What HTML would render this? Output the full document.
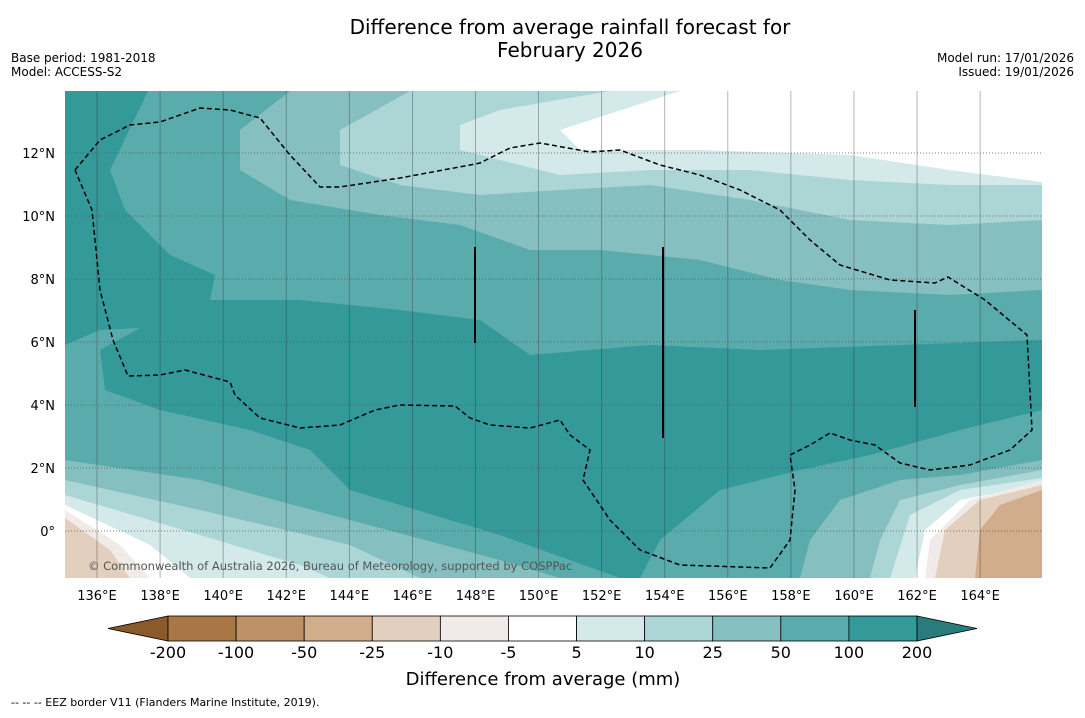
<!DOCTYPE html>
<html><head><meta charset="utf-8"><style>
body{margin:0;background:#fff;width:1085px;height:713px;overflow:hidden;font-family:"Liberation Sans","DejaVu Sans",sans-serif}
svg text{font-family:"DejaVu Sans","Liberation Sans",sans-serif}
</style></head><body>
<svg width="1085" height="713" viewBox="0 0 1085 713">
<text x="570" y="34" font-size="20" text-anchor="middle">Difference from average rainfall forecast for</text>
<text x="570" y="57" font-size="20" text-anchor="middle">February 2026</text>
<text x="11" y="62" font-size="12">Base period: 1981-2018</text>
<text x="11" y="76" font-size="12">Model: ACCESS-S2</text>
<text x="1074" y="62" font-size="12" text-anchor="end">Model run: 17/01/2026</text>
<text x="1074" y="76" font-size="12" text-anchor="end">Issued: 19/01/2026</text>
<defs><clipPath id="mc"><rect x="65" y="91" width="977" height="487"/></clipPath></defs>
<g clip-path="url(#mc)">
<rect x="65" y="91" width="977" height="487" fill="#fff"/>
<polygon fill="#d4e9e9" points="65,91 680,91 560,130 580,150 700,150 850,155 950,170 1042,182 1042,484 960,500 925,530 915,578 190,578 150,545 65,505"/>
<polygon fill="#acd6d6" points="65,91 610,91 500,110 460,125 460,150 560,175 650,170 750,170 850,180 950,185 1042,185 1042,478 960,490 910,515 890,578 330,578 300,565 200,535 65,495"/>
<polygon fill="#85bfbf" points="65,91 410,91 340,130 340,165 400,185 480,195 560,190 650,185 750,200 850,220 950,225 1042,220 1042,470 960,485 900,500 880,540 870,578 420,578 350,545 200,510 65,480"/>
<polygon fill="#5aabab" points="65,91 290,91 240,130 240,170 290,200 380,215 460,225 530,250 600,250 700,260 780,280 850,290 950,295 1042,290 1042,460 960,475 900,480 840,500 810,540 800,578 560,578 500,560 350,520 200,480 65,460"/>
<polygon fill="#339999" points="65,91 148,91 110,170 125,210 170,255 215,275 210,300 300,300 400,310 480,320 530,355 650,345 760,350 900,345 1042,340 1042,410 960,430 870,455 800,470 720,490 660,540 640,578 620,578 500,535 350,490 310,450 250,430 160,410 105,390 100,350 140,328 100,330 65,345"/>
<polygon fill="#f0ebe8" points="1042,480 970,500 930,540 925,578 1042,578"/>
<polygon fill="#e3cfbd" points="1042,485 980,500 945,530 935,578 1042,578"/>
<polygon fill="#d1ad8b" points="1042,490 1000,505 980,530 975,578 1042,578"/>
<polygon fill="#f0ebe8" points="65,510 120,545 150,578 65,578"/>
<polygon fill="#e3cfbd" points="65,518 110,550 130,578 65,578"/>
<g id="gridv" stroke="#333" stroke-opacity="0.45" stroke-width="0.8"></g>
<g id="grid" stroke="#555" stroke-width="0.8" stroke-dasharray="1,2"></g>
<polyline fill="none" stroke="#000" stroke-width="1.5" stroke-dasharray="5,3" points="75,170 100,140 130,125 160,122 200,108 230,110 260,118 290,155 320,187 340,187 400,178 470,165 480,163 510,148 540,143 590,152 620,150 660,165 680,170 700,175 740,190 780,210 810,240 840,265 890,280 935,283 948,277 985,300 1027,335 1032,430 1010,450 970,465 930,470 900,463 875,445 850,440 830,433 810,445 790,455 795,490 790,540 770,568 680,565 640,550 610,520 583,480 590,450 570,435 560,420 530,428 490,425 470,418 455,406 400,405 375,410 340,425 300,428 260,418 235,395 230,382 185,370 160,375 128,376 113,340 100,290 92,210 75,170"/>
<line x1="475" y1="247" x2="475" y2="343" stroke="#000" stroke-width="2"/>
<line x1="663" y1="247" x2="663" y2="438" stroke="#000" stroke-width="2"/>
<line x1="915" y1="310" x2="915" y2="407" stroke="#000" stroke-width="2"/>
<text x="88" y="570" font-size="11.5" fill="#555">© Commonwealth of Australia 2026, Bureau of Meteorology, supported by COSPPac</text>
</g>
<g id="ticks" font-size="13"></g>
<g id="cbar"></g>
<text x="543" y="685" font-size="18" text-anchor="middle">Difference from average (mm)</text>
<text x="11" y="706" font-size="11">--  --  -- EEZ border V11 (Flanders Marine Institute, 2019).</text>
</svg>
<script>
const lonTicks=[136,138,140,142,144,146,148,150,152,154,156,158,160,162,164];
const latTicks=[0,2,4,6,8,10,12];
const cbLabels=["-200","-100","-50","-25","-10","-5","5","10","25","50","100","200"];
const cbColors=["#a97745","#bd9068","#d1ad8b","#e3cfbd","#f0ebe8","#ffffff","#d4e9e9","#acd6d6","#85bfbf","#5aabab","#339999"];
const cbLow="#8a5a2b",cbHigh="#2a7b7b";
const ns="http://www.w3.org/2000/svg";
const xLon=l=>97+(l-136)*31.54, yLat=l=>531-l*31.5;
function mk(t,a,p){const e=document.createElementNS(ns,t);for(const k in a)e.setAttribute(k,a[k]);p.appendChild(e);return e;}
const g=document.getElementById('grid'),gv=document.getElementById('gridv'),tk=document.getElementById('ticks'),cb=document.getElementById('cbar');
lonTicks.forEach(l=>{const x=xLon(l);
 const ln=mk('line',{x1:x,x2:x,y1:91,y2:578},gv);
 
 
 const t=mk('text',{x:x,y:600,'text-anchor':'middle'},tk);t.textContent=l+'°E';
 
 });
latTicks.forEach(l=>{const y=yLat(l);
 const ln=mk('line',{x1:65,x2:1042,y1:y,y2:y},g);
 
 
 const t=mk('text',{x:55,y:y+5,'text-anchor':'end'},tk);t.textContent=l===0?'0°':l+'°N';
 
 });
const x0=168,w=(917-168)/cbColors.length,y0=616,h=25;
const lo=mk('polygon',{points:`${x0},${y0} ${x0-60},${y0+h/2} ${x0},${y0+h}`,fill:cbLow,stroke:'#000','stroke-width':0.8},cb);


cbColors.forEach((c,i)=>{const r=mk('rect',{x:x0+i*w,y:y0,width:w,height:h,fill:c,stroke:'#000','stroke-width':0.8},cb);
 
 });
const xe=x0+cbColors.length*w;
const hi=mk('polygon',{points:`${xe},${y0} ${xe+60},${y0+h/2} ${xe},${y0+h}`,fill:cbHigh,stroke:'#000','stroke-width':0.8},cb);


cbLabels.forEach((s,i)=>{const t=mk('text',{x:x0+i*w,y:658,'font-size':16,'text-anchor':'middle'},cb);t.textContent=s;
 
 });
</script>
</body></html>
